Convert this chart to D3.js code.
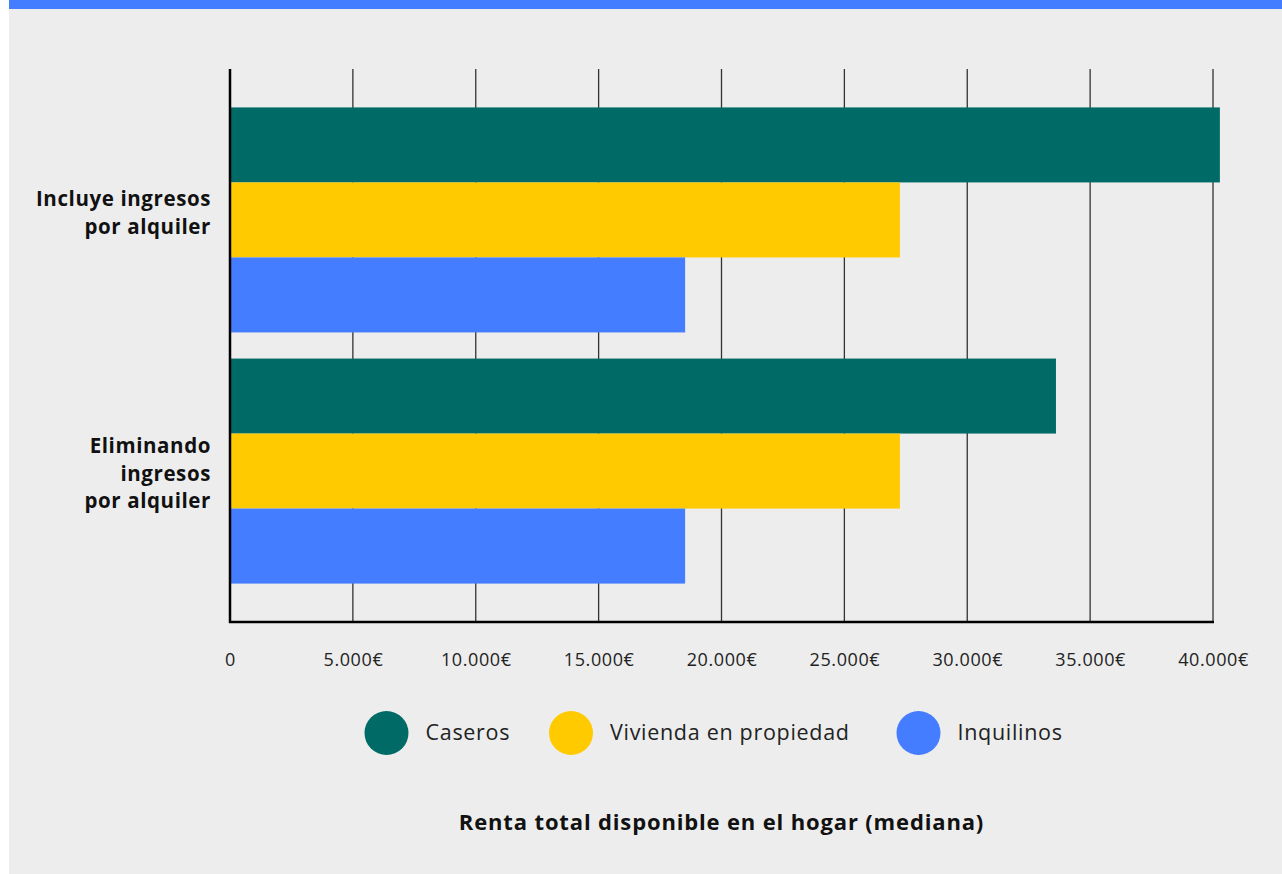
<!DOCTYPE html>
<html>
<head>
<meta charset="utf-8">
<script src="https://cdn.jsdelivr.net/npm/d3@7"></script>
<style>
  body { margin: 0; background: #fff; }
  text { font-family: "Open Sans", "Noto Sans", sans-serif; }
</style>
</head>
<body>
<div id="chart"></div>
<script>
// data
var groups = ["Incluye ingresos por alquiler", "Eliminando ingresos por alquiler"];
var groupLines = [["Incluye ingresos", "por alquiler"], ["Eliminando", "ingresos", "por alquiler"]];
var series = ["Caseros", "Vivienda en propiedad", "Inquilinos"];
var caseros = [40280, 33610];
var vivienda = [27260, 27260];
var inquilinos = [18520, 18520];
var xTicks = [0, 5000, 10000, 15000, 20000, 25000, 30000, 35000, 40000];
var colors = ["#006b66", "#ffca00", "#447dff"];

var svgWidth = 1282;
var svgHeight = 874;

var chartMargin = { top: 69, right: 69, bottom: 252, left: 230 };
var chartWidth = 983;
var chartHeight = svgHeight - chartMargin.top - chartMargin.bottom;

var svg = d3.select("#chart")
  .append("svg")
  .attr("width", svgWidth)
  .attr("height", svgHeight);

// background panel + top stripe
svg.append("rect")
  .attr("x", 9).attr("y", 0)
  .attr("width", svgWidth - 9).attr("height", svgHeight)
  .attr("fill", "#ededed");
svg.append("rect")
  .attr("x", 9).attr("y", 0)
  .attr("width", svgWidth - 9).attr("height", 9)
  .attr("fill", "#447dff");

var chartGroup = svg.append("g")
  .attr("transform", `translate(${chartMargin.left}, ${chartMargin.top})`);

var xScale = d3.scaleLinear()
  .domain([0, 40000])
  .range([0, chartWidth]);

var yScale = d3.scaleBand()
  .domain(groups)
  .range([0, chartHeight])
  .paddingInner(0.104)
  .paddingOuter(0.153);

var ySub = d3.scaleBand()
  .domain(series)
  .range([0, yScale.bandwidth()]);

// vertical grid lines
chartGroup.selectAll(".grid")
  .data(xTicks.slice(1))
  .enter()
  .append("line")
  .attr("x1", d => xScale(d))
  .attr("x2", d => xScale(d))
  .attr("y1", 0)
  .attr("y2", chartHeight)
  .attr("stroke", "#333")
  .attr("stroke-width", 1.3);

// bars
var rows = groups.map((g, i) => ({ group: g, values: [caseros[i], vivienda[i], inquilinos[i]] }));

var groupG = chartGroup.selectAll(".group")
  .data(rows)
  .enter()
  .append("g")
  .attr("transform", d => `translate(0, ${yScale(d.group)})`);

groupG.selectAll("rect")
  .data(d => d.values.map((v, j) => ({ key: series[j], value: v, color: colors[j] })))
  .enter()
  .append("rect")
  .attr("x", 0)
  .attr("y", d => ySub(d.key))
  .attr("width", d => xScale(d.value))
  .attr("height", ySub.bandwidth())
  .attr("fill", d => d.color);

// axis lines
chartGroup.append("line")
  .attr("x1", 0).attr("x2", 0)
  .attr("y1", 0).attr("y2", chartHeight + 1)
  .attr("stroke", "#000").attr("stroke-width", 2.5);
chartGroup.append("line")
  .attr("x1", -1).attr("x2", chartWidth + 1)
  .attr("y1", chartHeight).attr("y2", chartHeight)
  .attr("stroke", "#000").attr("stroke-width", 2.5);

// x axis tick labels
var bottomAxis = d3.axisBottom(xScale)
  .tickValues(xTicks)
  .tickSize(0)
  .tickPadding(31)
  .tickFormat(d => d === 0 ? "0" : d3.format(",")(d).replace(/,/g, ".") + "€");

var xAxis = chartGroup.append("g")
  .attr("transform", `translate(0, ${chartHeight})`)
  .call(bottomAxis);
xAxis.select(".domain").remove();
xAxis.selectAll("text")
  .attr("font-size", "18px")
  .attr("fill", "#222")
  .style("letter-spacing", "0.6px")
  .style("font-family", "'Open Sans', sans-serif");

// category labels (right aligned, bold)
var lineHeight = 27.5;
chartGroup.selectAll(".cat")
  .data(groups)
  .enter()
  .append("text")
  .attr("text-anchor", "end")
  .attr("font-size", "20.5px")
  .attr("font-weight", "bold")
  .attr("fill", "#111")
  .style("letter-spacing", "0.6px")
  .each(function(d, i) {
    var lines = groupLines[i];
    var cy = yScale(d) + yScale.bandwidth() / 2 + (i === 0 ? -7 : 2.5);
    var startY = cy - (lines.length - 1) * lineHeight / 2 + 7;
    d3.select(this).selectAll("tspan")
      .data(lines)
      .enter()
      .append("tspan")
      .attr("x", -19)
      .attr("y", (l, k) => startY + k * lineHeight)
      .text(l => l);
  });

// legend
var legendX = [386.5, 571, 918.5];
var legend = svg.selectAll(".legend")
  .data(series)
  .enter()
  .append("g")
  .attr("transform", (d, i) => `translate(${legendX[i]}, 733)`);

legend.append("circle")
  .attr("r", 22)
  .attr("fill", (d, i) => colors[i]);

legend.append("text")
  .attr("x", 39)
  .attr("y", 7)
  .attr("font-size", "21.5px")
  .attr("fill", "#222")
  .style("letter-spacing", "0.7px")
  .text(d => d);

// axis title
svg.append("text")
  .attr("x", chartMargin.left + chartWidth / 2)
  .attr("y", 830)
  .attr("text-anchor", "middle")
  .attr("font-size", "22px")
  .attr("font-weight", "bold")
  .attr("fill", "#111")
  .style("letter-spacing", "0.85px")
  .text("Renta total disponible en el hogar (mediana)");
</script>
</body>
</html>
